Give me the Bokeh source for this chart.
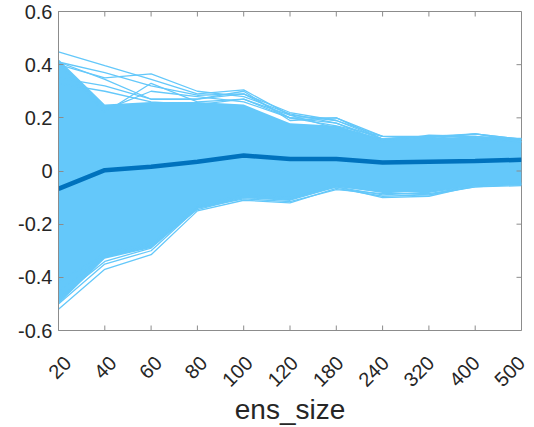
import math
from bokeh.plotting import figure
from bokeh.models import Range1d, FixedTicker, LinearAxis
from bokeh.embed import file_html
from bokeh.resources import INLINE

ens_size = ["20", "40", "60", "80", "100", "120", "180", "240", "320", "400", "500"]
y_ticks = [-0.6, -0.4, -0.2, 0, 0.2, 0.4, 0.6]

# ensemble mean
mean_vals = [-0.067, 0.003, 0.016, 0.035, 0.058, 0.045, 0.045, 0.032, 0.035, 0.038, 0.042]

# densely filled core of the ensemble (upper / lower edge)
band_upper = [0.42, 0.25, 0.26, 0.26, 0.25, 0.18, 0.17, 0.12, 0.125, 0.125, 0.125]
band_lower = [-0.50, -0.33, -0.29, -0.14, -0.10, -0.11, -0.06, -0.08, -0.08, -0.055, -0.05]

# individual members visible outside the core
member_01 = [0.448, 0.396, 0.345, 0.290, 0.305, 0.210, 0.190, 0.120, 0.120, 0.120, 0.110]
member_02 = [0.410, 0.370, 0.320, 0.285, 0.290, 0.200, 0.200, 0.130, 0.130, 0.140, 0.120]
member_03 = [0.400, 0.350, 0.365, 0.300, 0.280, 0.215, 0.180, 0.110, 0.135, 0.130, 0.120]
member_04 = [0.410, 0.345, 0.270, 0.270, 0.300, 0.190, 0.200, 0.120, 0.120, 0.140, 0.110]
member_05 = [0.400, 0.220, 0.330, 0.260, 0.270, 0.200, 0.170, 0.130, 0.120, 0.120, 0.120]
member_06 = [0.410, 0.230, 0.300, 0.280, 0.260, 0.200, 0.180, 0.120, 0.130, 0.125, 0.120]
member_07 = [0.350, 0.320, 0.270, 0.270, 0.290, 0.220, 0.190, 0.130, 0.125, 0.140, 0.120]
member_08 = [0.330, 0.300, 0.260, 0.250, 0.270, 0.210, 0.160, 0.120, 0.130, 0.130, 0.110]
member_09 = [-0.520, -0.370, -0.315, -0.150, -0.110, -0.120, -0.065, -0.095, -0.090, -0.060, -0.050]
member_10 = [-0.500, -0.350, -0.300, -0.140, -0.100, -0.110, -0.060, -0.100, -0.095, -0.055, -0.050]
member_11 = [-0.480, -0.340, -0.290, -0.140, -0.105, -0.115, -0.070, -0.085, -0.085, -0.060, -0.055]
member_12 = [-0.450, -0.320, -0.280, -0.145, -0.100, -0.100, -0.055, -0.080, -0.090, -0.050, -0.050]
member_13 = [-0.420, -0.310, -0.270, -0.130, -0.090, -0.100, -0.060, -0.090, -0.080, -0.055, -0.045]

members = [member_01, member_02, member_03, member_04, member_05, member_06, member_07,
           member_08, member_09, member_10, member_11, member_12, member_13]

LIGHT = "#64C8FA"
DARK = "#0072BD"
GREY = "#8C8C8C"
TXT = "#262626"
FONT = "Liberation Sans"

xs = list(range(len(ens_size)))
x_lo, x_hi = 0, len(ens_size) - 1
y_lo, y_hi = y_ticks[0], y_ticks[-1]
LABEL_SHIFT = 0.2  # rotated labels sit a little right of their ticks (MATLAB style)

p = figure(width=534, height=427, output_backend="svg", toolbar_location=None,
           x_range=Range1d(x_lo, x_hi), y_range=Range1d(y_lo, y_hi),
           x_axis_location=None,
           min_border_left=58, min_border_right=13, min_border_top=11, min_border_bottom=89)
p.grid.visible = False
p.outline_line_color = GREY
p.outline_line_width = 1
p.background_fill_color = "white"

p.varea(x=xs, y1=band_lower, y2=band_upper, fill_color=LIGHT, fill_alpha=1.0)
p.multi_line(xs=[xs] * len(members), ys=members, line_color=LIGHT, line_width=1.3)
p.line(xs, mean_vals, line_color=DARK, line_width=4.5)

# inward ticks on bottom, top and right edges of the box
p.ray(x=xs, y=[y_lo] * len(xs), length=5, length_units="screen", angle=math.pi / 2,
      line_color=GREY, line_width=1)
p.ray(x=xs, y=[y_hi] * len(xs), length=5, length_units="screen", angle=-math.pi / 2,
      line_color=GREY, line_width=1)
p.ray(x=[x_hi] * len(y_ticks), y=y_ticks, length=5, length_units="screen", angle=math.pi,
      line_color=GREY, line_width=1)

# x labels axis (range nudged so the rotated labels sit right of their ticks, MATLAB style)
p.extra_x_ranges = {"lab": Range1d(x_lo - LABEL_SHIFT, x_hi)}
xa = LinearAxis(x_range_name="lab", ticker=FixedTicker(ticks=xs),
                major_label_overrides={i: s for i, s in enumerate(ens_size)})
xa.major_label_orientation = math.pi / 4
xa.axis_line_color = None
xa.major_tick_line_color = None
xa.minor_tick_line_color = None
xa.major_tick_in = 0
xa.major_tick_out = 0
xa.major_label_standoff = 29
xa.major_label_text_font = FONT
xa.major_label_text_font_size = "20px"
xa.major_label_text_color = TXT
xa.axis_label = "ens_size"
xa.axis_label_standoff = -2
xa.axis_label_text_font = FONT
xa.axis_label_text_font_size = "28px"
xa.axis_label_text_font_style = "normal"
xa.axis_label_text_color = TXT
p.add_layout(xa, "below")

ya = p.yaxis[0]
ya.ticker = FixedTicker(ticks=y_ticks)
ya.major_label_overrides = {v: ("0" if v == 0 else f"{v:.1f}") for v in y_ticks}
ya.axis_line_color = GREY
ya.major_tick_line_color = GREY
ya.major_tick_in = 5
ya.major_tick_out = 0
ya.minor_tick_line_color = None
ya.major_label_text_font = FONT
ya.major_label_text_font_size = "20px"
ya.major_label_text_color = TXT
ya.major_label_standoff = 6

open("out.html", "w").write(file_html(p, INLINE))
